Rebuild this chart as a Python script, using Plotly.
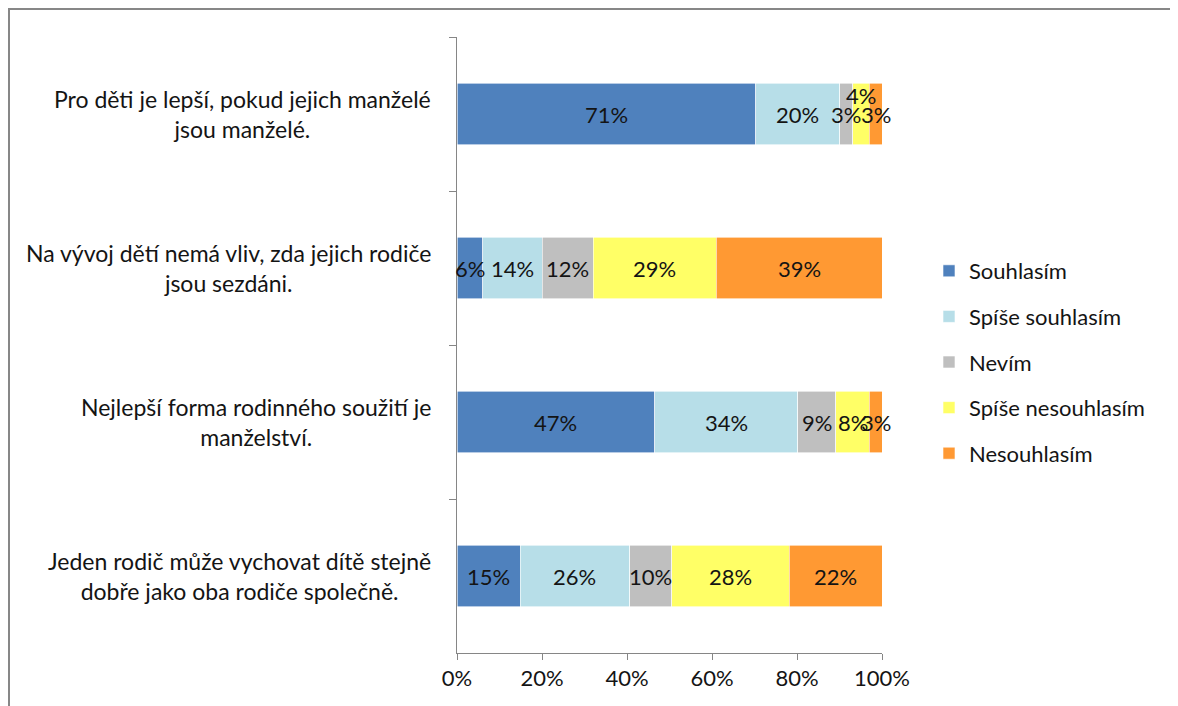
import numpy as np
import plotly.graph_objects as go

categories = [
    "Pro děti je lepší, pokud jejich manželé<br>jsou manželé.",
    "Na vývoj dětí nemá vliv, zda jejich rodiče<br>jsou sezdáni.",
    "Nejlepší forma rodinného soužití je<br>manželství.",
    "Jeden rodič může vychovat dítě stejně<br>dobře jako oba rodiče společně.",
]
series_names = ["Souhlasím", "Spíše souhlasím", "Nevím", "Spíše nesouhlasím", "Nesouhlasím"]
souhlasim = [71, 6, 47, 15]
spise_souhlasim = [20, 14, 34, 26]
nevim = [3, 12, 9, 10]
spise_nesouhlasim = [4, 29, 8, 28]
nesouhlasim = [3, 39, 3, 22]
x_ticks = [0, 20, 40, 60, 80, 100]
x_tick_labels = ["0%", "20%", "40%", "60%", "80%", "100%"]

colors = ["#4F81BD", "#B7DEE8", "#BFBFBF", "#FFFF66", "#FF9933"]
series = [souhlasim, spise_souhlasim, nevim, spise_nesouhlasim, nesouhlasim]
# vertical label nudges (px) per series/category to mimic overlap avoidance
label_yshift = [[0, 0, 0, 0], [0, 0, 0, 0], [0, 0, 0, 0], [19, 0, 0, 0], [0, 0, 0, 0]]

FONT = "Lato"
FS = 22
TXT = "#141414"
# page body has an 8px margin; figure is laid out to land on the reference pixels
W, H = 1170, 698
L, R, T, B = 449, 296, 29, 53
pw, ph = W - L - R, H - T - B

fig = go.Figure()
for name, vals, col in zip(series_names, series, colors):
    fig.add_trace(go.Bar(
        y=categories, x=vals, name=name, orientation="h",
        marker=dict(color=col, line=dict(color="white", width=0.6)),
        width=0.4, legendgroup=name, hoverinfo="skip",
    ))

data = np.array(series, dtype=float)
norm = data / data.sum(axis=0) * 100
cum = np.cumsum(norm, axis=0)
mids = cum - norm / 2
annotations = []
for i in range(len(series)):
    for j, cat in enumerate(categories):
        annotations.append(dict(
            x=mids[i, j], y=cat, xref="x", yref="y",
            text=f"{series[i][j]}%", showarrow=False,
            font=dict(family=FONT, size=FS, color=TXT),
            yshift=label_yshift[i][j],
        ))
for cat in categories:
    annotations.append(dict(
        x=0, y=cat, xref="paper", yref="y", xanchor="right", xshift=-24,
        text=cat, showarrow=False, align="center",
        font=dict(family=FONT, size=23, color=TXT),
    ))

fig.update_layout(
    width=W, height=H,
    margin=dict(l=L, r=R, t=T, b=B),
    barmode="stack", barnorm="percent",
    plot_bgcolor="white", paper_bgcolor="white",
    font=dict(family=FONT, size=FS, color=TXT),
    annotations=annotations,
    xaxis=dict(
        range=[0, 100], tickvals=x_ticks, ticktext=x_tick_labels, showgrid=False,
        zeroline=False, showline=True, linecolor="#868686", linewidth=1,
        ticks="outside", ticklen=6, tickcolor="#868686",
        tickfont=dict(family=FONT, size=FS, color=TXT),
    ),
    yaxis=dict(
        autorange="reversed", showticklabels=False, showgrid=False,
        showline=True, linecolor="#868686", linewidth=1,
        ticks="outside", ticklen=7, tickcolor="#868686", tickson="boundaries",
    ),
    legend=dict(
        x=(921 - L) / pw, y=(T + ph - 354) / ph, xanchor="left", yanchor="middle",
        traceorder="grouped", tracegroupgap=14,
        font=dict(family=FONT, size=FS, color=TXT),
        itemwidth=30,
    ),
    shapes=[dict(
        type="rect", xref="paper", yref="paper",
        x0=(1 - L) / pw, x1=(W + 20 - L) / pw,
        y0=(T + ph - (H + 20)) / ph, y1=(T + ph - 1) / ph,
        line=dict(color="#878787", width=2), layer="below",
    )],
)

fig.write_html("out.html")
